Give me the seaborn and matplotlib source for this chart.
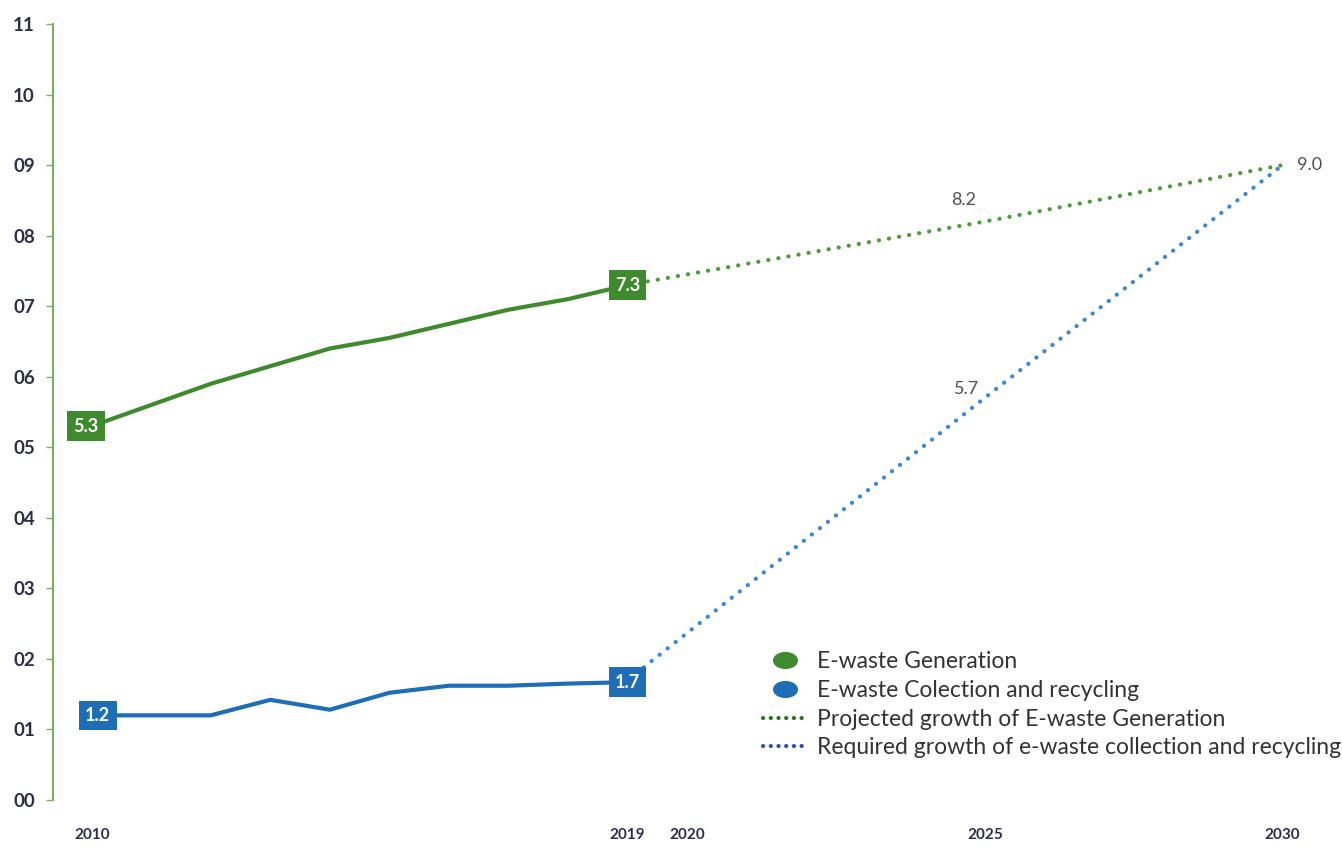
import matplotlib
matplotlib.use("Agg")
import matplotlib.pyplot as plt
from matplotlib.lines import Line2D
from matplotlib.path import Path
from matplotlib.transforms import Affine2D
import seaborn as sns
import pandas as pd

## Data
years_hist = [2010, 2011, 2012, 2013, 2014, 2015, 2016, 2017, 2018, 2019]
generation = [5.3, 5.6, 5.9, 6.15, 6.4, 6.55, 6.75, 6.95, 7.1, 7.3]
collection = [1.2, 1.2, 1.2, 1.42, 1.28, 1.52, 1.62, 1.62, 1.65, 1.67]

years_proj = [2019, 2025, 2030]
generation_proj = [7.3, 8.2, 9.0]
collection_proj = [1.7, 5.7, 9.0]

x_ticks = [2010, 2019, 2020, 2025, 2030]
y_ticks = list(range(0, 12))
y_ticklabels = ["%02d" % v for v in y_ticks]

legend_labels = ["E-waste Generation", "E-waste Colection and recycling",
                 "Projected growth of E-waste Generation",
                 "Required growth of e-waste collection and recycling"]

green = "#3f8a2e"
blue = "#1f6db5"
green_dot = "#4f9a3c"
blue_dot = "#3f86d0"
axis_green = "#78b060"
tick_col = "#2e2e48"
dots = (0, (0.05, 2.4))

##########################################################################

sns.set_style("white")
plt.rcParams['font.family'] = ['Lato', 'DejaVu Sans']

df_hist = pd.DataFrame({"year": years_hist, "gen": generation, "col": collection})
df_proj = pd.DataFrame({"year": years_proj, "gen": generation_proj, "col": collection_proj})

fig = plt.figure(figsize=(13.42, 8.47), dpi=100)
ax = fig.add_axes([53 / 1342, 47 / 847, (1342 - 53) / 1342, 776 / 847])

sns.lineplot(data=df_proj, x="year", y="gen", color=green_dot, lw=3,
             dashes=False, ax=ax, linestyle=dots, dash_capstyle="round")
sns.lineplot(data=df_proj, x="year", y="col", color=blue_dot, lw=3,
             dashes=False, ax=ax, linestyle=dots, dash_capstyle="round")
sns.lineplot(data=df_hist, x="year", y="gen", color=green, lw=3, ax=ax)
sns.lineplot(data=df_hist, x="year", y="col", color=blue, lw=3, ax=ax)

# boxed value labels
boxes = [(years_hist[0] - 0.1, generation[0], generation[0], green),
         (years_hist[-1], generation[-1], generation[-1], green),
         (years_hist[0] + 0.1, collection[0], collection[0], blue),
         (years_hist[-1], collection[-1], collection_proj[0], blue)]
for yr, yy, val, c in boxes:
    ax.text(yr, yy, "%.1f" % val, color="white", fontsize=13, fontweight="bold",
            ha="center", va="center", zorder=5,
            bbox=dict(boxstyle="square,pad=0.35", fc=c, ec="none"))

# plain value labels on projections
ax.text(years_proj[1] - 0.35, generation_proj[1] + 0.3, "%.1f" % generation_proj[1],
        color="#505050", fontsize=13, ha="center", va="center")
ax.text(years_proj[1] - 0.3, collection_proj[1] + 0.12, "%.1f" % collection_proj[1],
        color="#505050", fontsize=13, ha="center", va="center")
ax.text(years_proj[2] + 0.25, generation_proj[2], "%.1f" % generation_proj[2],
        color="#505050", fontsize=13, ha="left", va="center")

ax.set_xlim(2009.35, 2031.0)
ax.set_ylim(0, 11)
ax.set_xticks(x_ticks)
ax.set_xticklabels([str(v) for v in x_ticks], fontsize=11, fontweight="bold", color=tick_col)
ax.set_yticks(y_ticks)
ax.set_yticklabels(y_ticklabels, fontsize=13.5, fontweight="bold", color=tick_col)
ax.set_xlabel("")
ax.set_ylabel("")
ax.tick_params(axis="x", length=0, pad=20)
ax.tick_params(axis="y", length=5, width=1, color=axis_green, direction="out", pad=8, left=True)

for s in ["top", "right", "bottom"]:
    ax.spines[s].set_visible(False)
ax.spines["left"].set_color(axis_green)
ax.spines["left"].set_linewidth(1.5)

ellipse = Path.unit_circle().transformed(Affine2D().scale(1.5, 1.0))
handles = [
    Line2D([], [], marker=ellipse, color=green, ls="none", markersize=17),
    Line2D([], [], marker=ellipse, color=blue, ls="none", markersize=17),
    Line2D([], [], color="#2f6f2a", lw=3, linestyle=(0, (0.05, 1.8)), dash_capstyle="round"),
    Line2D([], [], color="#3050b0", lw=3, linestyle=(0, (0.05, 1.8)), dash_capstyle="round"),
]
ax.legend(handles, legend_labels, loc="upper left", bbox_to_anchor=(0.535, 0.218),
          frameon=False, fontsize=16.5, handlelength=1.9, handletextpad=0.45,
          labelspacing=0.33, labelcolor="#333333")

fig.savefig("out.png", dpi=100)
